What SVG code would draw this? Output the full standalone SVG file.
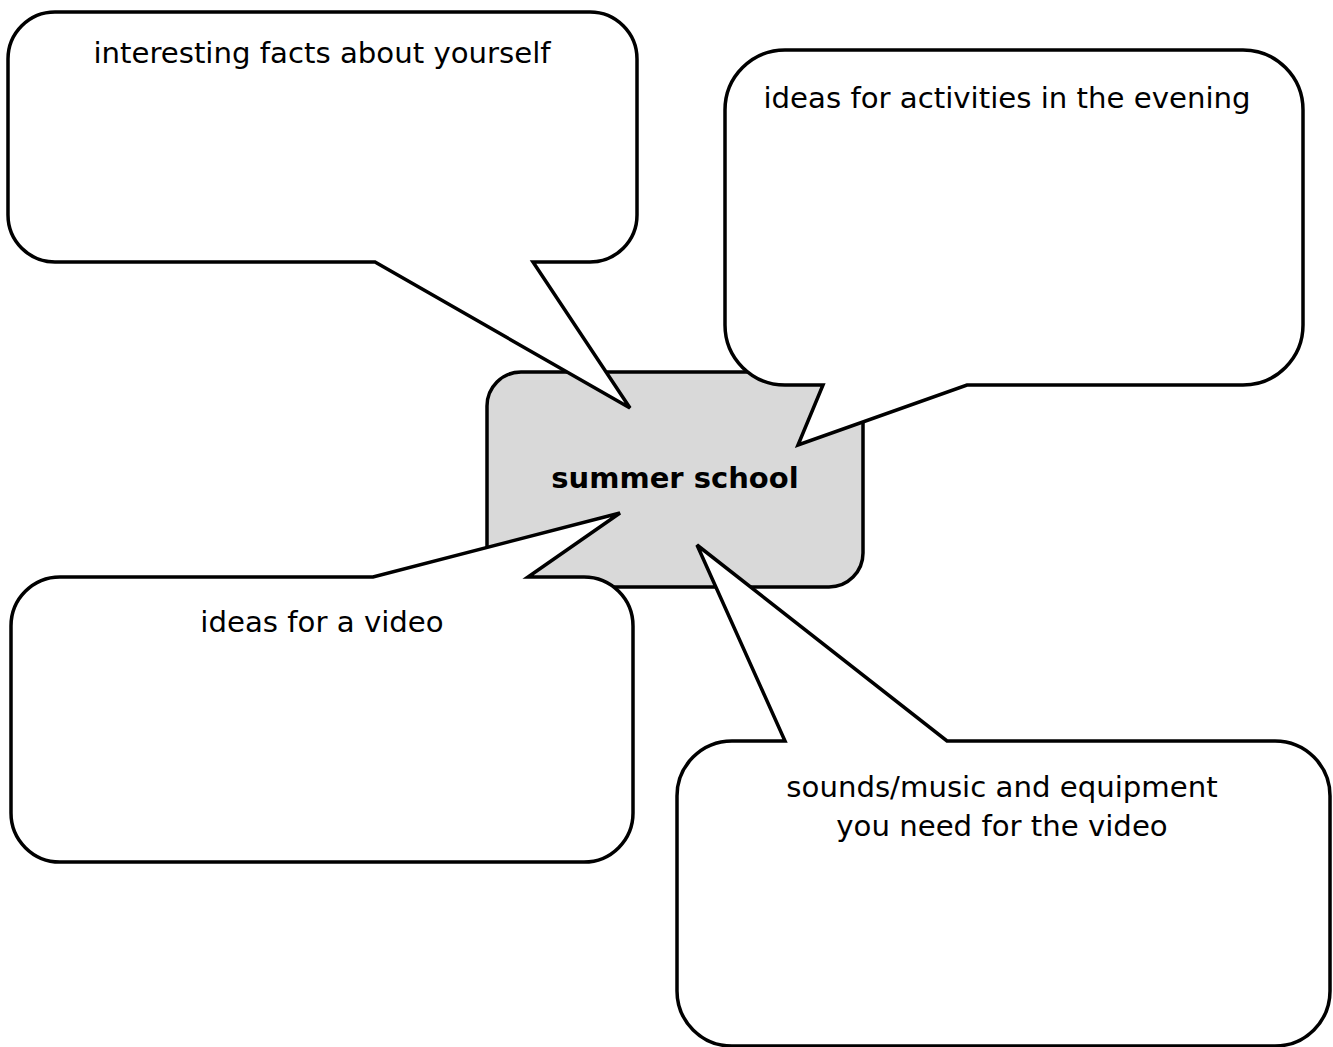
<svg xmlns="http://www.w3.org/2000/svg" width="1333" height="1047" viewBox="0 0 1333 1047">
<style>
.shape{fill:#ffffff;stroke:#000000;stroke-width:3.5;stroke-linejoin:miter}
.center{fill:#d9d9d9;stroke:#000000;stroke-width:3.5}
.lbl{font-family:"DejaVu Sans","Liberation Sans",sans-serif;font-size:29.2px;fill:#000000;text-anchor:middle}
.title{font-family:"DejaVu Sans","Liberation Sans",sans-serif;font-size:29px;font-weight:bold;fill:#000000;text-anchor:middle}
</style>
<rect width="1333" height="1047" fill="#ffffff"/>
<g id="summer-school">
<rect class="center" x="487" y="372" width="376" height="215" rx="34" ry="34"/>
<text class="title" x="675" y="488">summer school</text>
</g>
<g id="facts">
<path class="shape" d="M55,12 H590 A47,47 0 0 1 637,59 V215 A47,47 0 0 1 590,262 H533 L630,408 L375,262 H55 A47,47 0 0 1 8,215 V59 A47,47 0 0 1 55,12 Z"/>
<text class="lbl" x="322" y="63">interesting facts about yourself</text>
</g>
<g id="evening">
<path class="shape" d="M785,50 H1243 A60,60 0 0 1 1303,110 V325 A60,60 0 0 1 1243,385 H967 L798,445 L823,385 H785 A60,60 0 0 1 725,325 V110 A60,60 0 0 1 785,50 Z"/>
<text class="lbl" x="1007" y="108">ideas for activities in the evening</text>
</g>
<g id="video">
<path class="shape" d="M60,577 H373 L620,513 L528,577 H584 A49,49 0 0 1 633,626 V813 A49,49 0 0 1 584,862 H60 A49,49 0 0 1 11,813 V626 A49,49 0 0 1 60,577 Z"/>
<text class="lbl" x="322" y="632">ideas for a video</text>
</g>
<g id="sounds">
<path class="shape" d="M732,741 H785 L697,545 L947,741 H1275 A55,55 0 0 1 1330,796 V991 A55,55 0 0 1 1275,1046 H732 A55,55 0 0 1 677,991 V796 A55,55 0 0 1 732,741 Z"/>
<text class="lbl" x="1002" y="797">sounds/music and equipment</text>
<text class="lbl" x="1002" y="836">you need for the video</text>
</g>
<g id="connectors"/>
</svg>
